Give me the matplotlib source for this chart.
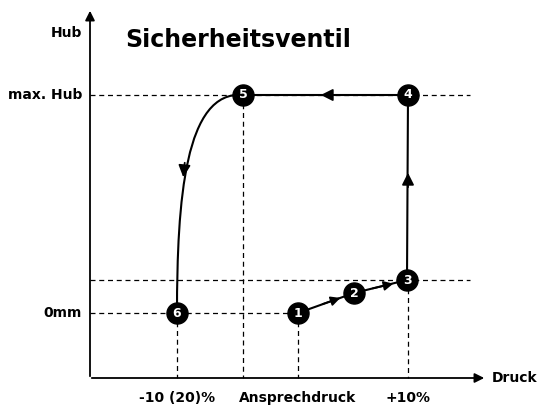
import matplotlib.pyplot as plt
from matplotlib.patches import FancyArrowPatch
from matplotlib.path import Path
from matplotlib.patches import PathPatch

# pixel-like coordinates (y grows downward)
node_ids = ['1', '2', '3', '4', '5', '6']
node_x = [298, 354, 407, 408, 243, 177]
node_y = [313, 293, 280, 95, 95, 313]
x_ticks = [177, 298, 408]
x_labels = ['-10 (20)%', 'Ansprechdruck', '+10%']
y_ticks = [95, 313]
y_labels = ['max. Hub', '0mm']
x0, y0 = 90, 378

fig = plt.figure(figsize=(5.48, 4.11), dpi=100)
ax = fig.add_axes([0, 0, 1, 1])
ax.set_xlim(0, 548)
ax.set_ylim(411, 0)
ax.axis('off')

# axes arrows
ax.annotate('', xy=(x0, 8), xytext=(x0, y0 + 1),
            arrowprops=dict(arrowstyle='-|>', color='k', lw=1.3, mutation_scale=14))
ax.annotate('', xy=(487, y0), xytext=(x0 - 1, y0),
            arrowprops=dict(arrowstyle='-|>', color='k', lw=1.3, mutation_scale=14))

# dashed guides
dk = dict(color='k', lw=0.9, ls=(0, (4, 3)))
ax.plot([x0, 470], [95, 95], **dk)
ax.plot([x0, 470], [280, 280], **dk)
ax.plot([x0, 298], [313, 313], **dk)
ax.plot([177, 177], [313, y0], **dk)
ax.plot([243, 243], [95, y0], **dk)
ax.plot([298, 298], [313, y0], **dk)
ax.plot([408, 408], [280, y0], **dk)

# path segments
ax.plot(node_x[:3], node_y[:3], color='k', lw=1.5)
ax.plot([node_x[2], node_x[3]], [node_y[2], node_y[3]], color='k', lw=1.5)
ax.plot([node_x[3], node_x[4]], [node_y[3], node_y[4]], color='k', lw=1.5)
ax.annotate('', xy=(343, 297), xytext=(320, 305),
            arrowprops=dict(arrowstyle='-|>', color='k', lw=1.3, mutation_scale=14))
ax.annotate('', xy=(396, 283), xytext=(370, 289),
            arrowprops=dict(arrowstyle='-|>', color='k', lw=1.3, mutation_scale=14))
ax.annotate('', xy=(408, 170), xytext=(408, 190),
            arrowprops=dict(arrowstyle='-|>', color='k', lw=1.3, mutation_scale=18))
ax.annotate('', xy=(318, 95), xytext=(340, 95),
            arrowprops=dict(arrowstyle='-|>', color='k', lw=1.3, mutation_scale=18))

# curve 5 -> 6
verts = [(node_x[4], node_y[4]), (185, 90), (177, 200), (node_x[5], node_y[5])]
ax.add_patch(PathPatch(Path(verts, [Path.MOVETO, Path.CURVE4, Path.CURVE4, Path.CURVE4]),
                       fc='none', ec='k', lw=1.5))
ax.annotate('', xy=(183, 180), xytext=(185, 160),
            arrowprops=dict(arrowstyle='-|>', color='k', lw=1.3, mutation_scale=18))

# nodes
ax.scatter(node_x, node_y, s=230, color='k', zorder=5)
for n, x, y in zip(node_ids, node_x, node_y):
    ax.text(x, y, n, color='white', fontsize=9, fontweight='bold',
            ha='center', va='center', zorder=6)

# labels
for x, t in zip(x_ticks, x_labels):
    ax.text(x, 398, t, fontsize=10, fontweight='bold', ha='center', va='center')
for y, t in zip(y_ticks, y_labels):
    ax.text(82, y, t, fontsize=10, fontweight='bold', ha='right', va='center')
ax.text(82, 33, 'Hub', fontsize=10, fontweight='bold', ha='right', va='center')
ax.text(492, 378, 'Druck', fontsize=10, fontweight='bold', ha='left', va='center')
ax.text(125, 40, 'Sicherheitsventil', fontsize=17, fontweight='bold', ha='left', va='center')

plt.savefig('out.png', dpi=100)
